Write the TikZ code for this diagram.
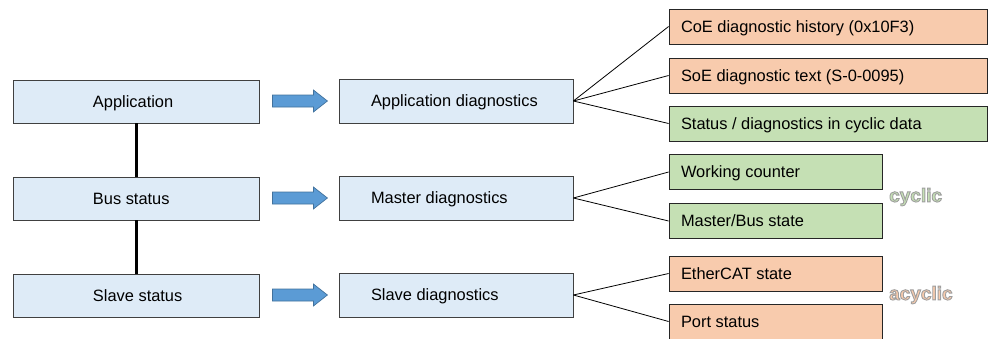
\documentclass[tikz,border=0pt]{standalone}
\usepackage{fontspec}
\setmainfont{Liberation Sans}
\usetikzlibrary{calc}
\definecolor{boxblue}{HTML}{DEEBF7}
\definecolor{boxorange}{HTML}{F8CBAD}
\definecolor{boxgreen}{HTML}{C5E0B4}
\definecolor{arrowfill}{HTML}{5B9BD5}
\definecolor{arrowdraw}{HTML}{41719C}
\definecolor{edge}{HTML}{404040}
\newcommand{\lbx}[3]{\makebox[#2pt][l]{\hspace*{#1pt}#3}}
\newcommand{\outlined}[1]{\special{pdf:literal 2 Tr 0.9 w 0.62 0.62 0.62 RG}#1\special{pdf:literal 0 Tr}}
\tikzset{
  basebox/.style={draw=edge, line width=0.8pt, inner sep=0pt, text height=11.7pt, text depth=0pt, font=\fontsize{16.4}{19}\selectfont},
  leftbox/.style={basebox, fill=boxblue, minimum height=43pt},
  midbox/.style={basebox, fill=boxblue, minimum height=44pt},
  orbox/.style={basebox, draw=black!85, fill=boxorange, minimum height=35pt},
  grbox/.style={basebox, draw=black!85, fill=boxgreen, minimum height=35pt},
  link/.style={draw=black, line width=0.8pt},
  spine/.style={draw=black, line width=3pt},
  blockarrow/.style={fill=arrowfill, draw=arrowdraw, line width=0.7pt},
  tag/.style={anchor=west, inner sep=0pt, font=\fontsize{19}{22}\selectfont\bfseries}
}
\begin{document}
\begin{tikzpicture}[x=1pt,y=-1pt]
\useasboundingbox (0,0) rectangle (989,338);
% left column
\node[leftbox] (L1) at (136,101.5) {\lbx{80}{246}{Application}};
\node[leftbox] (L2) at (136,198.5) {\lbx{80}{246}{Bus status}};
\node[leftbox] (L3) at (136,295.5) {\lbx{80}{246}{Slave status}};
% middle column
\node[midbox] (M1) at (456,101) {\lbx{32}{234}{Application diagnostics}};
\node[midbox] (M2) at (456,198) {\lbx{32}{234}{Master diagnostics}};
\node[midbox] (M3) at (456,295) {\lbx{32}{234}{Slave diagnostics}};
% right column
\node[orbox] (R1) at (828,26.5) {\lbx{12}{318}{CoE diagnostic history (0x10F3)}};
\node[orbox] (R2) at (828,75.5) {\lbx{12}{318}{SoE diagnostic text (S-0-0095)}};
\node[grbox] (R3) at (828,123.5) {\lbx{12}{318}{Status / diagnostics in cyclic data}};
\node[grbox] (R4) at (775.5,172) {\lbx{12}{213}{Working counter}};
\node[grbox] (R5) at (775.5,221) {\lbx{12}{213}{Master/Bus state}};
\node[orbox] (R6) at (775.5,273.5) {\lbx{12}{213}{EtherCAT state}};
\node[orbox] (R7) at (775.5,321.5) {\lbx{12}{213}{Port status}};
% tags
\node[tag, text=boxgreen] (cyc) at (889,197) {\outlined{cyclic}};
\node[tag, text=boxorange] (acyc) at (889,295) {\outlined{acyclic}};
% spine
\draw[spine] (L1.south) -- (L2.north);
\draw[spine] (L2.south) -- (L3.north);
% block arrows
\foreach \s in {L1,L2,L3}{
  \draw[blockarrow] ([xshift=13pt,yshift=0.5pt]\s.east) ++(0,-6) -- ++(41,0) -- ++(0,-5) -- ++(14,11) -- ++(-14,11) -- ++(0,-5) -- ++(-41,0) -- cycle;
}
% links
\draw[link] (M1.east) -- (R1.west);
\draw[link] (M1.east) -- (R2.west);
\draw[link] (M1.east) -- (R3.west);
\draw[link] (M2.east) -- (R4.west);
\draw[link] (M2.east) -- (R5.west);
\draw[link] (M3.east) -- (R6.west);
\draw[link] (M3.east) -- (R7.west);
\end{tikzpicture}
\end{document}
